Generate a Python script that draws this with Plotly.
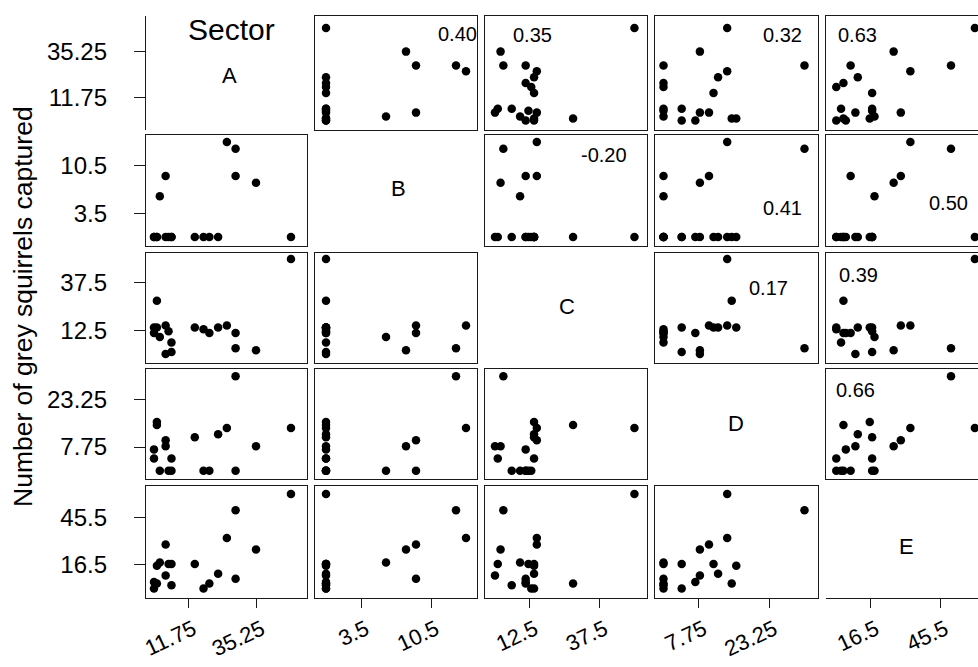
import plotly.graph_objects as go

# ---- data (counts of grey squirrels captured per sector, one value per observation) ----
sectors = ["A", "B", "C", "D", "E"]
A = [25, 28, 28, 4, 35, 2, 47, 1, 1, 5, 6, 4, 6, 0, 14, 17, 19, 22, 0]
B = [14, 13, 9, 9, 8, 6, 0, 0, 0, 0, 0, 0, 0, 0, 0, 0, 0, 0, 0]
C = [15, 3, 11, 15, 2, 9, 50, 28, 14, 12, 6, 0, 1, 11, 14, 13, 11, 14, 14]
D = [14, 31, 0, 10, 8, 0, 14, 15, 16, 0, 0, 8, 4, 7, 11, 0, 0, 12, 4]
E = [33, 50, 8, 29, 26, 18, 60, 5, 16, 17, 4, 10, 17, 6, 17, 2, 5, 11, 2]

tick_A = ["11.75", "35.25"]
tick_B = ["3.5", "10.5"]
tick_C = ["12.5", "37.5"]
tick_D = ["7.75", "23.25"]
tick_E = ["16.5", "45.5"]

corr_pairs = [("A", "B"), ("A", "C"), ("A", "D"), ("A", "E"), ("B", "C"),
              ("B", "D"), ("B", "E"), ("C", "D"), ("C", "E"), ("D", "E")]
corr_text = ["0.40", "0.35", "0.32", "0.63", "-0.20", "0.41", "0.50", "0.17", "0.39", "0.66"]

y_title = "Number of grey squirrels captured"
diag_title = "Sector"

values = {"A": A, "B": B, "C": C, "D": D, "E": E}
ticks = {"A": tick_A, "B": tick_B, "C": tick_C, "D": tick_D, "E": tick_E}

# ---- layout (pixels of the 978x667 page) ----
W, H = 978, 667
col_px = [(146, 307), (315, 477), (485, 647), (655, 818), (826, 978)]
row_px = [(16, 130), (135, 246), (253, 363), (369, 479), (486, 598)]
x_rng = {"A": [-2.74, 52.5], "B": [-1.1, 15.1], "C": [-3.58, 54.5],
         "D": [-1.87, 33.97], "E": [-2.3, 61.3]}
y_rng = {"A": [-4.83, 53.1], "B": [-1.33, 15.03], "C": [-4.74, 53.16],
         "D": [-2.73, 33.4], "E": [-3.83, 64.9]}

# correlation label centres (pixels), per pair
corr_pos = [(457, 34), (532, 35), (782, 35), (857, 35), (604, 155),
            (782, 208), (948, 203), (768, 288), (858, 275), (855, 390)]
diag_pos = [(229, 76), (398, 188), (567, 306), (736, 423), (906, 546)]

FONT = "Liberation Sans, Arial, sans-serif"
LINE = "#1a1a1a"


def px(x):
    return x / W


def py(y):
    return 1 - y / H


fig = go.Figure()
layout = {}
n = len(sectors)
for i, rv in enumerate(sectors):
    for j, cv in enumerate(sectors):
        k = i * n + j + 1
        xa = "xaxis" if k == 1 else f"xaxis{k}"
        ya = "yaxis" if k == 1 else f"yaxis{k}"
        xref = "x" if k == 1 else f"x{k}"
        yref = "y" if k == 1 else f"y{k}"
        diag = i == j
        x0, x1 = col_px[j]
        y0, y1 = row_px[i]
        xax = dict(domain=[px(x0), px(x1)], range=x_rng[cv], anchor=yref,
                   showgrid=False, zeroline=False, showticklabels=False,
                   ticks="", showline=not diag, mirror=(not diag),
                   linecolor=LINE, linewidth=1.4, fixedrange=True, automargin=False)
        yax = dict(domain=[py(y1), py(y0)], range=y_rng[rv], anchor=xref,
                   showgrid=False, zeroline=False, showticklabels=False,
                   ticks="", showline=not diag, mirror=(not diag and j < n - 1),
                   linecolor=LINE, linewidth=1.4, fixedrange=True, automargin=False)
        if i == n - 1:
            tv = [float(t) for t in ticks[cv]]
            xax.update(tickmode="array", tickvals=tv, ticktext=ticks[cv],
                       ticks="outside", ticklen=9, tickcolor=LINE, tickwidth=1.3,
                       showticklabels=True, tickangle=-25,
                       tickfont=dict(family=FONT, size=22, color="black"),
                       ticklabelstandoff=0, ticklabelshift=5)
            if diag:
                xax.update(showline=True, mirror=False)
        if j == 0:
            tv = [float(t) for t in ticks[rv]]
            yax.update(tickmode="array", tickvals=tv, ticktext=ticks[rv],
                       ticks="outside", ticklen=11, tickcolor=LINE, tickwidth=1.3,
                       showticklabels=True,
                       tickfont=dict(family=FONT, size=24, color="black"),
                       ticklabelstandoff=22)
            if diag:
                yax.update(showline=True, mirror=False)
        layout[xa] = xax
        layout[ya] = yax
        if not diag:
            fig.add_trace(go.Scatter(
                x=values[cv], y=values[rv], mode="markers",
                marker=dict(size=8.5, color="black"),
                xaxis=xref, yaxis=yref, showlegend=False, hoverinfo="skip"))
        else:
            # empty trace so the diagonal panel's axes are drawn
            fig.add_trace(go.Scatter(
                x=[None], y=[None], mode="markers", marker=dict(opacity=0),
                xaxis=xref, yaxis=yref, showlegend=False, hoverinfo="skip"))

annotations = []
for (a, b), t, (cx, cy) in zip(corr_pairs, corr_text, corr_pos):
    annotations.append(dict(x=px(cx), y=py(cy), xref="paper", yref="paper",
                            text=t, showarrow=False, xanchor="center", yanchor="middle",
                            font=dict(family=FONT, size=20, color="black")))
for s, (cx, cy) in zip(sectors, diag_pos):
    annotations.append(dict(x=px(cx), y=py(cy), xref="paper", yref="paper",
                            text=s, showarrow=False, xanchor="center", yanchor="middle",
                            font=dict(family=FONT, size=22, color="black")))
annotations.append(dict(x=px(231), y=py(30), xref="paper", yref="paper",
                        text=diag_title, showarrow=False, xanchor="center", yanchor="middle",
                        font=dict(family=FONT, size=30, color="black")))
annotations.append(dict(x=px(23), y=py(307), xref="paper", yref="paper",
                        text=y_title, showarrow=False, textangle=-90,
                        xanchor="center", yanchor="middle",
                        font=dict(family=FONT, size=26.5, color="black")))

fig.update_layout(width=W, height=H, margin=dict(l=0, r=0, t=0, b=0, pad=0),
                  autosize=False,
                  paper_bgcolor="white", plot_bgcolor="white",
                  annotations=annotations, **layout)
fig.write_html("out.html", config={"displayModeBar": False, "responsive": False},
               post_script="document.body.style.margin='0';document.body.style.overflow='hidden';")
